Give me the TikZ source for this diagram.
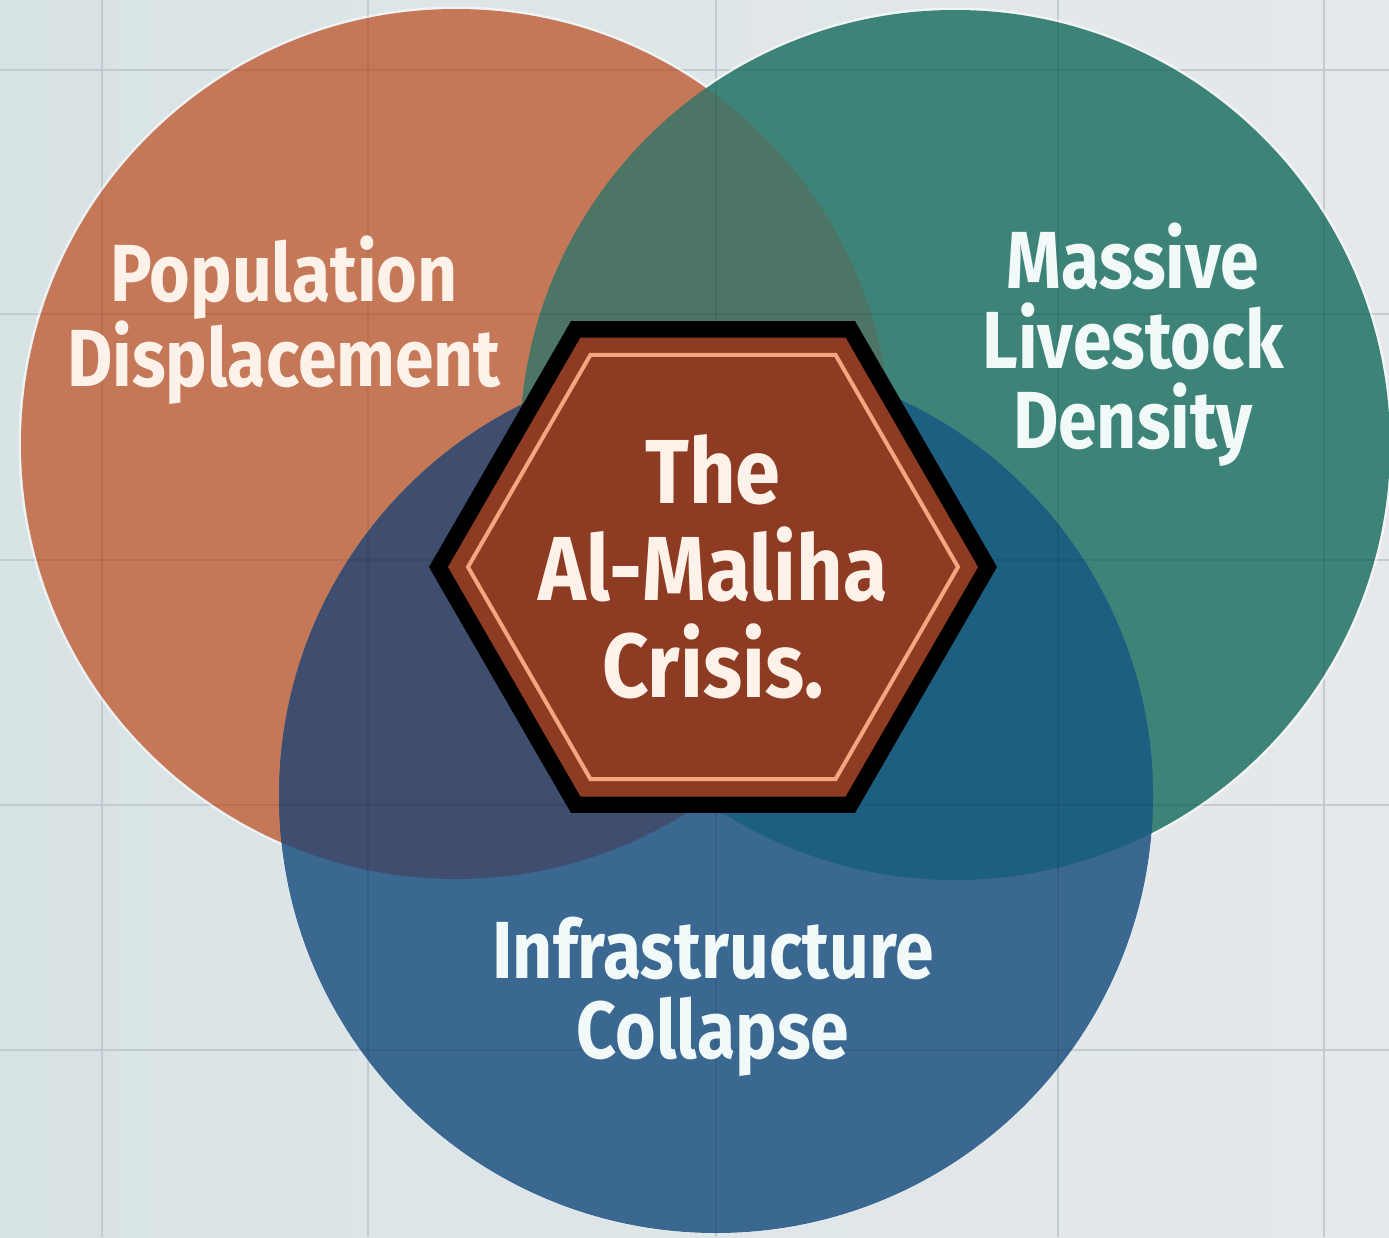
\documentclass[tikz,border=0pt]{standalone}
\usepackage{fontspec}
\newfontfamily\lab{Fira Sans}[FakeStretch=0.86]
\newfontfamily\labc{Fira Sans}[FakeStretch=0.89]
\usetikzlibrary{shapes.geometric}
\definecolor{bgL}{HTML}{D8E3E6}
\definecolor{bgR}{HTML}{E6E9EB}
\definecolor{gridC}{HTML}{C2CBD0}
\definecolor{orangeC}{HTML}{C47858}
\definecolor{tealC}{HTML}{3E8378}
\definecolor{blueC}{HTML}{3A6891}
\definecolor{otC}{HTML}{4C7565}
\definecolor{obC}{HTML}{3F4E6F}
\definecolor{tbC}{HTML}{1C5F80}
\definecolor{otbC}{HTML}{2A4A62}
\definecolor{hexBrown}{HTML}{8E3B23}
\definecolor{hexLine}{HTML}{F4A77E}
\definecolor{txtWarm}{HTML}{FCF2E9}
\definecolor{txtCool}{HTML}{F2FAF9}
\tikzset{
  gridline/.style={draw=gridC,line width=2pt},
  gridover/.style={draw=black,opacity=0.07,line width=2pt},
  halo/.style={fill=white,opacity=0.55},
  sidelabel/.style={align=center,inner sep=0pt,font=\lab\bfseries\fontsize{81}{80}\selectfont},
  centerlabel/.style={align=center,inner sep=0pt,text=txtWarm,font=\labc\bfseries\fontsize{91}{97}\selectfont},
  hexbase/.style={regular polygon,regular polygon sides=6,inner sep=0pt}
}
\begin{document}
\begin{tikzpicture}[x=1pt,y=-1pt]
\useasboundingbox (0,0) rectangle (1389,1237);
\shade[left color=bgL,right color=bgR] (0,0) rectangle (1389,1237);
% grid
\foreach \gx in {102,368,716,1058,1324} \draw[gridline] (\gx,0) -- (\gx,1237);
\foreach \gy in {70,314,560,805,1050} \draw[gridline] (0,\gy) -- (1389,\gy);
% circle centres
\coordinate (cO) at (456,444);
\coordinate (cT) at (955,445);
\coordinate (cB) at (716,796);
% halos
\fill[halo] (cO) circle (437.5pt);
\fill[halo] (cT) circle (437.5pt);
\fill[halo] (cB) circle (437.5pt);
% circles
\fill[orangeC] (cO) circle (435pt);
\fill[tealC] (cT) circle (435pt);
\fill[blueC] (cB) circle (437pt);
\begin{scope}
  \clip (cO) circle (435pt);
  \fill[otC] (cT) circle (435pt);
  \fill[obC] (cB) circle (437pt);
\end{scope}
\begin{scope}
  \clip (cT) circle (435pt);
  \fill[tbC] (cB) circle (437pt);
  \clip (cO) circle (435pt);
  \fill[otbC] (cB) circle (437pt);
\end{scope}
% faint grid through circles
\begin{scope}
  \clip (cO) circle (435pt) (cT) circle (435pt) (cB) circle (437pt);
  \foreach \gx in {102,368,716,1058,1324} \draw[gridover] (\gx,0) -- (\gx,1237);
  \foreach \gy in {70,314,560,805,1050} \draw[gridover] (0,\gy) -- (1389,\gy);
\end{scope}
% hexagon
\node[hexbase,fill=black,minimum size=568pt] (hexA) at (713,567) {};
\node[hexbase,fill=hexBrown,minimum size=530pt] (hexB) at (hexA.center) {};
\node[hexbase,draw=hexLine,line width=4pt,minimum size=490pt] (hexC) at (hexA.center) {};
% labels
\node[sidelabel,text=txtWarm] (pop) at (284,320) {Population\\Displacement};
\node[sidelabel,text=txtCool] (mass) at (1133,345) {Massive\\Livestock\\Density};
\node[sidelabel,text=txtCool] (infra) at (713,997) {Infrastructure\\Collapse};
\node[centerlabel] (crisis) at (hexA.center) {The\\Al-Maliha\\Crisis.};
\end{tikzpicture}
\end{document}
